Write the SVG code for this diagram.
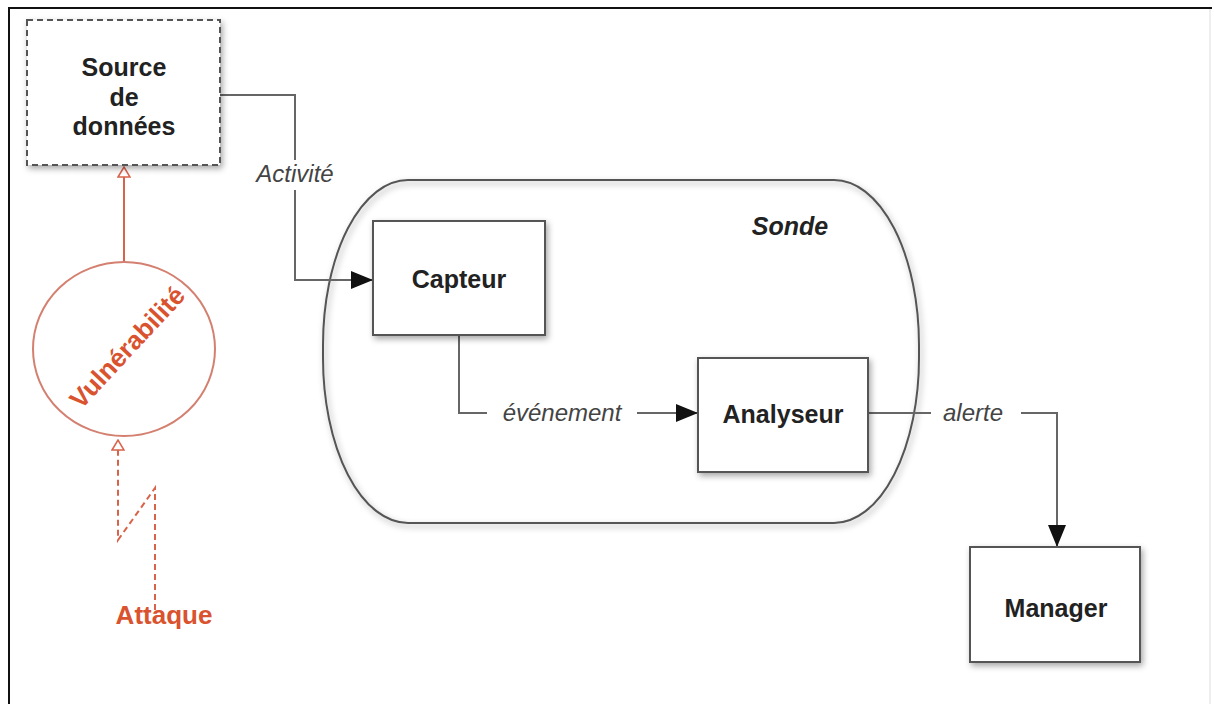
<svg xmlns="http://www.w3.org/2000/svg" width="1214" height="704" viewBox="0 0 1214 704">
<style>
.box{fill:#fff;stroke:#555;stroke-width:2;filter:url(#sh)}
.lbl{font-family:"Liberation Sans",Arial,sans-serif;font-weight:bold;font-size:25px;fill:#222;text-anchor:middle}
.it{font-family:"Liberation Sans",Arial,sans-serif;font-style:italic;font-size:24px;fill:#444;text-anchor:middle}
.con{fill:none;stroke:#666;stroke-width:2}
.red{fill:none;stroke:#d9634a;stroke-width:2}
.redt{font-family:"Liberation Sans",Arial,sans-serif;font-weight:bold;font-size:26px;fill:#d9532f;text-anchor:middle}
</style>
<defs>
<filter id="sh" x="-20%" y="-20%" width="140%" height="140%">
<feDropShadow dx="2" dy="3" stdDeviation="3" flood-color="#000" flood-opacity="0.35"/>
</filter>
<marker id="arr" markerWidth="22" markerHeight="18" refX="21" refY="9" orient="auto" markerUnits="userSpaceOnUse">
<path d="M0,0 L22,9 L0,18 Z" fill="#111"/>
</marker>
<marker id="oarr" markerWidth="12" markerHeight="14" refX="11" refY="7" orient="auto" markerUnits="userSpaceOnUse">
<path d="M1,1 L11,7 L1,13 Z" fill="#fff" stroke="#d9634a" stroke-width="1.5"/>
</marker>
</defs>
<rect width="1214" height="704" fill="#fff"/>
<g id="frame">
<line x1="9" y1="8" x2="1212" y2="8" stroke="#111" stroke-width="2"/>
<line x1="9" y1="7" x2="9" y2="704" stroke="#111" stroke-width="2"/>
<line x1="1210" y1="9" x2="1210" y2="704" stroke="#ddd" stroke-width="1"/>
</g>
<g id="sonde">
<rect x="323" y="180" width="596" height="343" rx="85" ry="165" fill="none" stroke="#555" stroke-width="2" filter="url(#sh)"/>
<text x="790" y="235" font-family="Liberation Sans, Arial, sans-serif" font-weight="bold" font-style="italic" font-size="25" fill="#222" text-anchor="middle">Sonde</text>
</g>
<g id="connectors">
<path class="con" d="M220,95 H295 V280 H372" marker-end="url(#arr)"/>
<path class="con" d="M459,336 V413 H697" marker-end="url(#arr)"/>
<path class="con" d="M869,413 H1057 V546" marker-end="url(#arr)"/>
<line class="red" x1="124" y1="262" x2="124" y2="167" marker-end="url(#oarr)"/>
<path class="red" d="M155,610 V488 L118,540 V440" stroke-dasharray="6,4" marker-end="url(#oarr)"/>
<rect x="247" y="160" width="96" height="30" fill="#fff"/>
<text class="it" x="295" y="182">Activité</text>
<rect x="487" y="398" width="150" height="30" fill="#fff"/>
<text class="it" x="562" y="421">événement</text>
<rect x="931" y="398" width="90" height="30" fill="#fff"/>
<text class="it" x="973" y="421">alerte</text>
</g>
<g id="source">
<rect x="27" y="20" width="193" height="145" fill="#fff" stroke="#555" stroke-width="2" stroke-dasharray="6,4" filter="url(#sh)"/>
<text class="lbl" x="124" y="76">Source</text>
<text class="lbl" x="124" y="106">de</text>
<text class="lbl" x="124" y="135">données</text>
</g>
<g id="vulnerabilite">
<ellipse cx="124" cy="349" rx="91" ry="87" fill="#fff" stroke="#d48070" stroke-width="2"/>
<text class="redt" x="0" y="0" font-size="24" transform="translate(128,348) rotate(-47)" dy="8">Vulnérabilité</text>
</g>
<g id="attaque">
<text class="redt" x="164" y="624">Attaque</text>
</g>
<g id="capteur">
<rect class="box" x="373" y="221" width="172" height="114"/>
<text class="lbl" x="459" y="288">Capteur</text>
</g>
<g id="analyseur">
<rect class="box" x="698" y="358" width="170" height="114"/>
<text class="lbl" x="783" y="423">Analyseur</text>
</g>
<g id="manager">
<rect class="box" x="970" y="547" width="170" height="115"/>
<text class="lbl" x="1056" y="617">Manager</text>
</g>
</svg>
